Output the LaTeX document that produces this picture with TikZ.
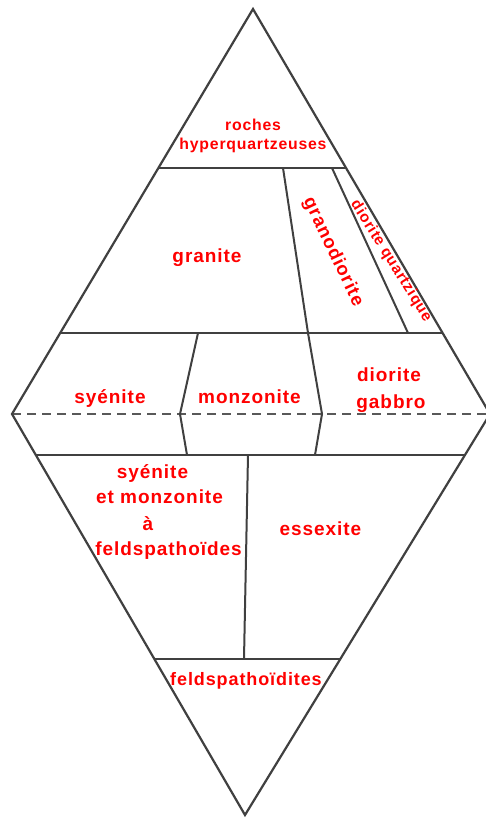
\documentclass[tikz,border=0pt]{standalone}
\usepackage{fontspec}
\usetikzlibrary{calc}
\newfontfamily\lab{Liberation Sans}[LetterSpace=5]
\begin{document}
\begin{tikzpicture}[x=1pt,y=-1pt,
  edge/.style={draw=black!75,line width=2.2pt,line join=miter},
  sep/.style={draw=black!75,line width=2pt},
  dash line/.style={draw=black!65,line width=2.4pt,dash pattern=on 9pt off 6pt},
  lbl/.style={text=red,font=\lab\bfseries\fontsize{19}{22}\selectfont,inner sep=0pt,anchor=base},
  small lbl/.style={lbl,font=\lab\bfseries\fontsize{15.8}{18}\selectfont}]
\useasboundingbox (0,0) rectangle (485,818);
\fill[white] (0,0) rectangle (485,818);
% vertices
\coordinate (T) at (253,9);
\coordinate (L) at (12,414);
\coordinate (R) at (490,414);
\coordinate (B) at (245,815);
% points on the edges
\coordinate (l1) at ($(T)!0.3926!(L)$);
\coordinate (r1) at ($(T)!0.3926!(R)$);
\coordinate (l2) at ($(T)!0.8!(L)$);
\coordinate (r2) at ($(T)!0.8!(R)$);
\coordinate (l3) at ($(L)!0.1022!(B)$);
\coordinate (r3) at ($(R)!0.1022!(B)$);
\coordinate (l4) at ($(L)!0.611!(B)$);
\coordinate (r4) at ($(R)!0.611!(B)$);
% inner points
\coordinate (a1) at (283,168);
\coordinate (a2) at (308,333);
\coordinate (a3) at (322,414);
\coordinate (a4) at (315,455);
\coordinate (b1) at (332,168);
\coordinate (b2) at (408,333);
\coordinate (c1) at (198,333);
\coordinate (c2) at (180,414);
\coordinate (c3) at (187,455);
\coordinate (d1) at (248,455);
\coordinate (d2) at (244,659);
% dashed line
\draw[dash line] (L) -- (R);
% outline
\draw[edge] (T) -- (R) -- (B) -- (L) -- cycle;
% separators
\draw[sep] (l1) -- (r1);
\draw[sep] (l2) -- (r2);
\draw[sep] (l3) -- (r3);
\draw[sep] (l4) -- (r4);
\draw[sep] (a1) -- (a2) -- (a3) -- (a4);
\draw[sep] (b1) -- (b2);
\draw[sep] (c1) -- (c2) -- (c3);
\draw[sep] (d1) -- (d2);
% labels
\node[small lbl] (roc) at (253,131) {roches};
\node[small lbl] (hyp) at (253,150) {hyperquartzeuses};
\node[lbl] (gra) at (207,262) {granite};
\node[lbl,anchor=center,rotate=-64.5,font=\lab\bfseries\fontsize{18.5}{21}\selectfont] (grd) at (333,252) {granodiorite};
\node[small lbl,anchor=center,rotate=-58,font=\lab\bfseries\fontsize{15.2}{18}\selectfont] (dq) at (391,261) {diorite quartzique};
\node[lbl] (sye) at (110,403) {syénite};
\node[lbl] (mon) at (249.5,403) {monzonite};
\node[lbl] (dio) at (389,381) {diorite};
\node[lbl] (gab) at (391,408) {gabbro};
\node[lbl] (sy2) at (152.5,478) {syénite};
\node[lbl] (etm) at (159.5,503.5) {et monzonite};
\node[lbl] (aa) at (148,530) {à};
\node[lbl] (fel) at (168.5,555) {feldspathoïdes};
\node[lbl] (ess) at (320.5,535) {essexite};
\node[lbl,font=\lab\bfseries\fontsize{18}{21}\selectfont] (fds) at (246,685) {feldspathoïdites};
\end{tikzpicture}
\end{document}
